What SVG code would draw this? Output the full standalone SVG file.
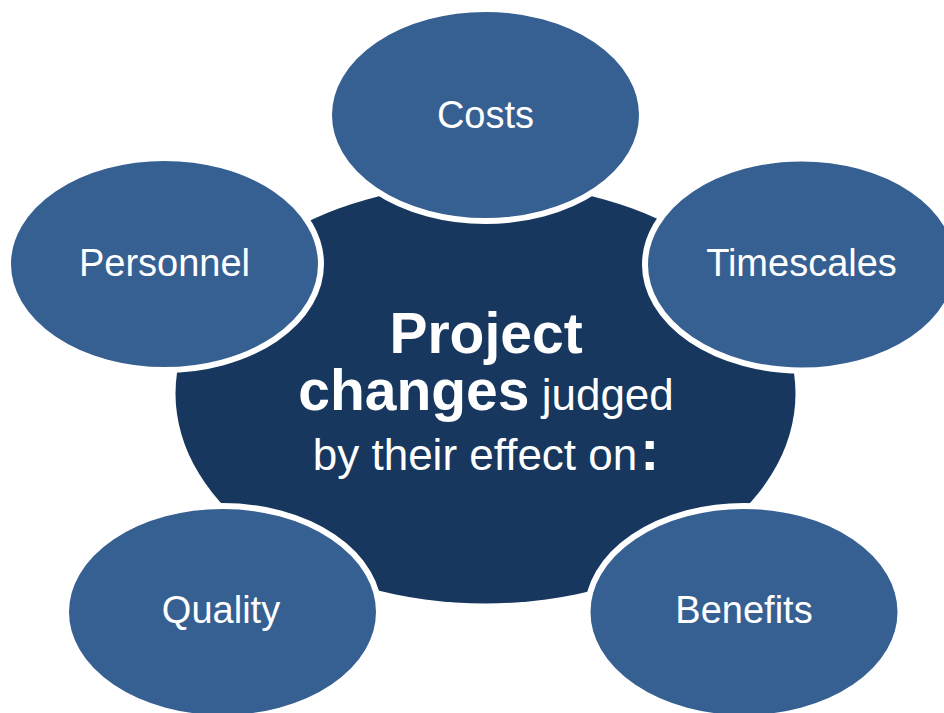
<svg xmlns="http://www.w3.org/2000/svg" width="944" height="713" viewBox="0 0 944 713">
<style>
.sat{fill:#376092;stroke:#ffffff;stroke-width:6}
.core{fill:#17375E}
.lbl{font-family:"Liberation Sans",Arial,sans-serif;font-size:38px;fill:#ffffff;text-anchor:middle}
.ctr{font-family:"Liberation Sans",Arial,sans-serif;fill:#ffffff;text-anchor:middle}
.b{font-weight:bold;font-size:57px}
.r{font-size:44px}
</style>
<rect width="944" height="713" fill="#ffffff"/>
<g id="center">
<ellipse class="core" cx="485.5" cy="393.5" rx="310" ry="210"/>
</g>
<g id="costs">
<ellipse class="sat" cx="485.5" cy="115" rx="156.5" ry="106"/>
<text class="lbl" x="485.5" y="128">Costs</text>
</g>
<g id="personnel">
<ellipse class="sat" cx="164.5" cy="264" rx="156.5" ry="106"/>
<text class="lbl" x="164.5" y="276">Personnel</text>
</g>
<g id="timescales">
<ellipse class="sat" cx="801.5" cy="264.5" rx="156.5" ry="106"/>
<text class="lbl" x="801.5" y="276">Timescales</text>
</g>
<g id="quality">
<ellipse class="sat" cx="222.5" cy="612" rx="156.5" ry="106"/>
<text class="lbl" x="221" y="623">Quality</text>
</g>
<g id="benefits">
<ellipse class="sat" cx="744" cy="612" rx="156.5" ry="106"/>
<text class="lbl" x="744" y="623">Benefits</text>
</g>
<g id="center-text">
<text class="ctr" x="486" y="353"><tspan class="b">Project</tspan></text>
<text class="ctr" x="486" y="410"><tspan class="b">changes</tspan><tspan class="r" font-size="45"> judged</tspan></text>
<text class="ctr" x="486" y="470"><tspan class="r">by their effect on</tspan><tspan class="b" dx="3">:</tspan></text>
</g>
</svg>
